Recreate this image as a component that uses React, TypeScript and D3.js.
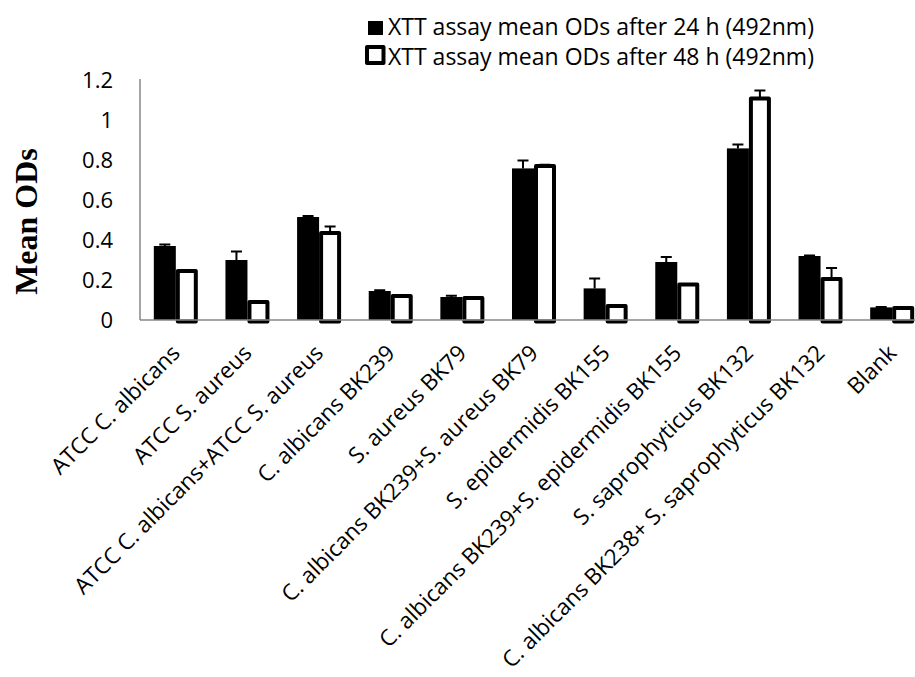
import React from 'react';
import * as d3 from 'd3';

// --- data ---
const categories = [
  'ATCC C. albicans',
  'ATCC S. aureus',
  'ATCC C. albicans+ATCC S. aureus',
  'C. albicans BK239',
  'S. aureus BK79',
  'C. albicans BK239+S. aureus BK79',
  'S. epidermidis BK155',
  'C. albicans BK239+S. epidermidis BK155',
  'S. saprophyticus BK132',
  'C. albicans BK238+ S. saprophyticus BK132',
  'Blank',
];
const od24 = [0.37, 0.3, 0.515, 0.145, 0.115, 0.758, 0.158, 0.29, 0.858, 0.32, 0.063];
const od48 = [0.245, 0.09, 0.435, 0.12, 0.11, 0.77, 0.07, 0.178, 1.108, 0.205, 0.06];
const err24 = [0.008, 0.042, 0.005, 0.004, 0.006, 0.04, 0.05, 0.025, 0.02, 0.003, 0.002];
const err48 = [0.002, 0.002, 0.032, 0.002, 0.004, 0.006, 0.002, 0.002, 0.04, 0.055, 0.002];
const yTicks = [0, 0.2, 0.4, 0.6, 0.8, 1, 1.2];
const seriesNames = [
  'XTT assay mean ODs after 24 h (492nm)',
  'XTT assay mean ODs after 48 h (492nm)',
];

const W = 915, H = 677;
const FONT = '"Open Sans", sans-serif';
const AXIS = '#868686';

export default function App() {
  const x = d3.scaleBand<string>().domain(categories).range([140, 928]);
  const y = d3.scaleLinear().domain([0, 1.2]).range([320, 80]);
  const y0 = y(0);
  const barW = 22;

  return (
    <svg width={W} height={H} style={{ position: 'absolute', left: 0, top: 0, background: '#fff' }}
      fontFamily={FONT}>
      {/* y axis */}
      <line x1={140} x2={140} y1={y(1.2) - 1} y2={y0} stroke={AXIS} strokeWidth={1.5} />
      {yTicks.map(t => (
        <text key={t} x={113} y={y(t)} dy="0.36em" textAnchor="end" fontSize={22}>{d3.format('~g')(t)}</text>
      ))}
      <text transform={`translate(37,${221.5}) rotate(-90)`} textAnchor="middle"
        fontFamily='"Liberation Serif", serif' fontWeight="bold" fontSize={32}>Mean ODs</text>

      {/* bars */}
      {categories.map((c, i) => {
        const cx = (x(c) as number) + x.bandwidth() / 2;
        const wTop = y(od48[i]);
        return (
          <g key={c}>
            <rect x={cx - barW} y={y(od24[i])} width={barW} height={y0 - y(od24[i])} fill="#000" />
            <rect x={cx + 2} y={wTop} width={barW - 4} height={y0 + 1.5 - wTop}
              fill="#fff" stroke="#000" strokeWidth={4} strokeLinejoin="round" />
            {/* error bars, plus direction */}
            <path d={`M${cx - barW / 2},${y(od24[i])}V${y(od24[i] + err24[i])}M${cx - barW / 2 - 5.5},${y(od24[i] + err24[i])}h11`}
              stroke="#000" strokeWidth={2} fill="none" />
            <path d={`M${cx + barW / 2},${wTop}V${y(od48[i] + err48[i])}M${cx + barW / 2 - 5.5},${y(od48[i] + err48[i])}h11`}
              stroke="#000" strokeWidth={2} fill="none" />
            <text transform={`translate(${cx},349) rotate(-45)`} textAnchor="end" dy="0.35em" fontSize={22.4}>{c}</text>
          </g>
        );
      })}

      {/* x axis */}
      <line x1={140} x2={x.range()[1]} y1={y0} y2={y0} stroke={AXIS} strokeWidth={1.5} />

      {/* legend */}
      <rect x={368} y={21} width={15} height={14} fill="#000" />
      <rect x={367} y={47} width={16.5} height={16} fill="#fff" stroke="#000" strokeWidth={4} strokeLinejoin="round" />
      <text x={388} y={35} fontSize={23}>{seriesNames[0]}</text>
      <text x={388} y={65} fontSize={23}>{seriesNames[1]}</text>
    </svg>
  );
}
